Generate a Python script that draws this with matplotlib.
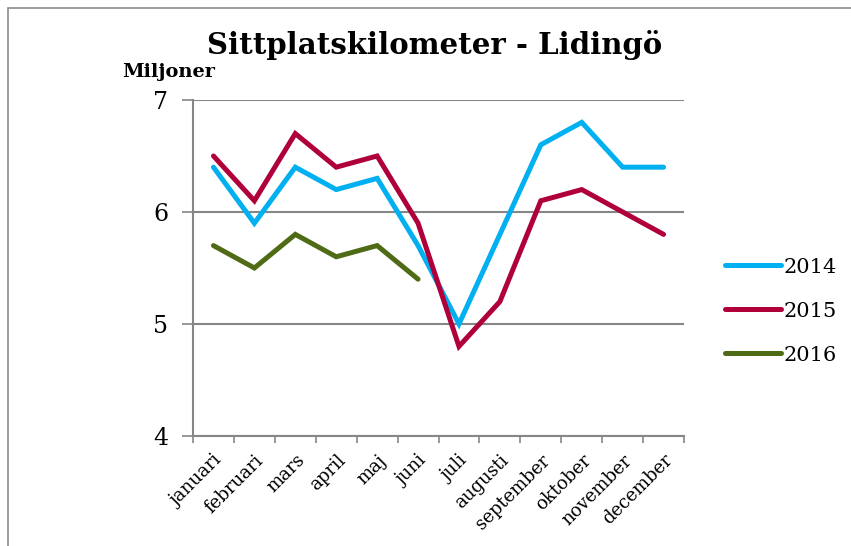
import matplotlib.pyplot as plt
from matplotlib.patches import Rectangle
from matplotlib.lines import Line2D

months = ["januari", "februari", "mars", "april", "maj", "juni", "juli",
          "augusti", "september", "oktober", "november", "december"]
y2014 = [6.4, 5.9, 6.4, 6.2, 6.3, 5.7, 5.0, 5.8, 6.6, 6.8, 6.4, 6.4]
y2015 = [6.5, 6.1, 6.7, 6.4, 6.5, 5.9, 4.8, 5.2, 6.1, 6.2, 6.0, 5.8]
y2016 = [5.7, 5.5, 5.8, 5.6, 5.7, 5.4]
series_names = ["2014", "2015", "2016"]
colors = ["#00B0F0", "#B0003A", "#4F6B16"]

plt.rcParams["font.family"] = ["DejaVu Serif"]

fig = plt.figure(figsize=(8.51, 5.46), dpi=100)
fig.patches.append(Rectangle((8 / 851, -0.1), 1.5, 1 - 8 / 546 + 0.1,
                             transform=fig.transFigure, fill=False,
                             edgecolor="#8c8c8c", linewidth=1.2))

ax = fig.add_axes([0.2268, 0.2015, 0.5770, 0.6154])
x = list(range(len(months)))
for vals, name, c in zip([y2014, y2015, y2016], series_names, colors):
    ax.plot(x[:len(vals)], vals, color=c, linewidth=3.6, label=name,
            solid_capstyle="round", solid_joinstyle="miter")

ax.set_xlim(-0.5, 11.5)
ax.set_ylim(4, 7)
ax.set_yticks([4, 5, 6, 7])
ax.set_yticklabels(["4", "5", "6", "7"], fontsize=17)
ax.yaxis.grid(True, color="#868686", linewidth=1.5)
ax.set_axisbelow(True)

ax.set_xticks(x)
ax.set_xticklabels(months, rotation=45, ha="right", rotation_mode="anchor",
                   fontsize=13)
ax.set_xticks([i - 0.5 for i in range(13)], minor=True)
ax.tick_params(axis="x", which="major", length=0, pad=11)
ax.tick_params(axis="x", which="minor", length=5, color="#868686", width=1.2)
ax.tick_params(axis="y", length=8, color="#868686", width=1.2, pad=10)

for s in ["top", "right"]:
    ax.spines[s].set_visible(False)
for s in ["left", "bottom"]:
    ax.spines[s].set_color("#868686")
    ax.spines[s].set_linewidth(1.5)

fig.text(0.511, 0.918, "Sittplatskilometer - Lidingö", ha="center",
         va="center", fontsize=21, fontweight="bold")
fig.text(0.143, 0.868, "Miljoner", ha="left", va="center", fontsize=14,
         fontweight="bold")

handles = [Line2D([0], [0], color=c, linewidth=3.6, solid_capstyle="round")
           for c in colors]
fig.legend(handles, series_names, loc="center left",
           bbox_to_anchor=(0.83, 0.43), frameon=False, fontsize=15,
           handlelength=2.7, handletextpad=0.1, labelspacing=1.2)

fig.savefig("out.png", dpi=100)
